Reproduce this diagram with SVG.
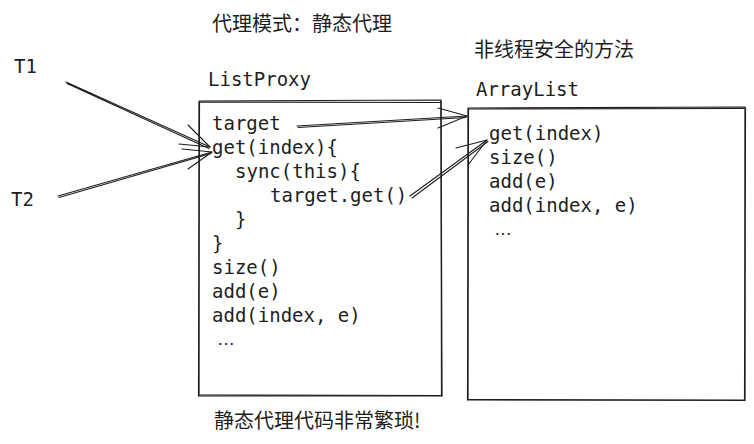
<svg xmlns="http://www.w3.org/2000/svg" width="754" height="444" viewBox="0 0 754 444">
<style>
.bg{fill:#ffffff}
.box{fill:none;stroke:#1e1e1e;stroke-width:1.2;stroke-linecap:round;stroke-linejoin:round}
.ln{fill:none;stroke:#1e1e1e;stroke-width:1.1;stroke-linecap:round;stroke-linejoin:round}
.code{font-family:"DejaVu Sans Mono","Liberation Mono",monospace;font-size:19px;fill:#1e1e1e}
.dots{font-family:"Liberation Sans",sans-serif;font-size:18px;fill:#1e1e1e}
.cjk{font-family:"Noto Sans CJK SC","Noto Sans",sans-serif;font-size:20px;fill:#1e1e1e}
</style>
<rect class="bg" x="0" y="0" width="754" height="444"/>
<g id="title"><text class="cjk" x="212" y="31">代理模式：静态代理</text></g>
<g id="t1"><text class="code" x="14" y="73">T1</text></g>
<g id="t2"><text class="code" x="11" y="206">T2</text></g>
<g id="unsafe-label"><text class="cjk" x="474" y="57">非线程安全的方法</text></g>
<g id="footer"><text class="cjk" x="214" y="428">静态代理代码非常繁琐!</text></g>
<g id="listproxy">
<text class="code" x="208" y="86">ListProxy</text>
<path class="box" d="M199 101 L441 100 L442 396 L199 396 Z"/>
<path class="box" d="M200 102 L440 102.5 M441 101 L441.5 395 M442 395.5 L200 395 M198.5 396 L199.5 102"/>
<text class="code" x="212" y="130">target</text>
<text class="code" x="212" y="154">get(index){</text>
<text class="code" x="235" y="178">sync(this){</text>
<text class="code" x="270" y="202">target.get()</text>
<text class="code" x="235" y="226">}</text>
<text class="code" x="212" y="250">}</text>
<text class="code" x="212" y="274">size()</text>
<text class="code" x="212" y="298">add(e)</text>
<text class="code" x="212" y="322">add(index, e)</text>
<text class="dots" x="217" y="345">…</text>
</g>
<g id="arraylist">
<text class="code" x="476" y="96">ArrayList</text>
<path class="box" d="M468 108 L745 107 L745 400 L468 400 Z"/>
<path class="box" d="M469 109 L744 108.5 M745.5 108 L744.5 399 M745 400.5 L469 399.5 M467.5 400 L468.5 109"/>
<text class="code" x="489" y="140">get(index)</text>
<text class="code" x="489" y="164">size()</text>
<text class="code" x="489" y="188">add(e)</text>
<text class="code" x="489" y="212">add(index, e)</text>
<text class="dots" x="494" y="235">…</text>
</g>
<g id="connectors">
<path class="ln" d="M66 82 L210 147 M67 83.5 L209 148.5"/>
<path class="ln" d="M188 125 L210 147 L179 144"/>
<path class="ln" d="M58 196 L212 152 M59 197.5 L211 153.5"/>
<path class="ln" d="M182 149 L212 152 L188 169"/>
<path class="ln" d="M297 126 L467 116 M298 127.5 L466 117.5"/>
<path class="ln" d="M438 108 L467 116 L438 128"/>
<path class="ln" d="M410 196 L487 140 M412 198 L488 141.5"/>
<path class="ln" d="M456 148 L487 140 L468 165"/>
</g>
</svg>
